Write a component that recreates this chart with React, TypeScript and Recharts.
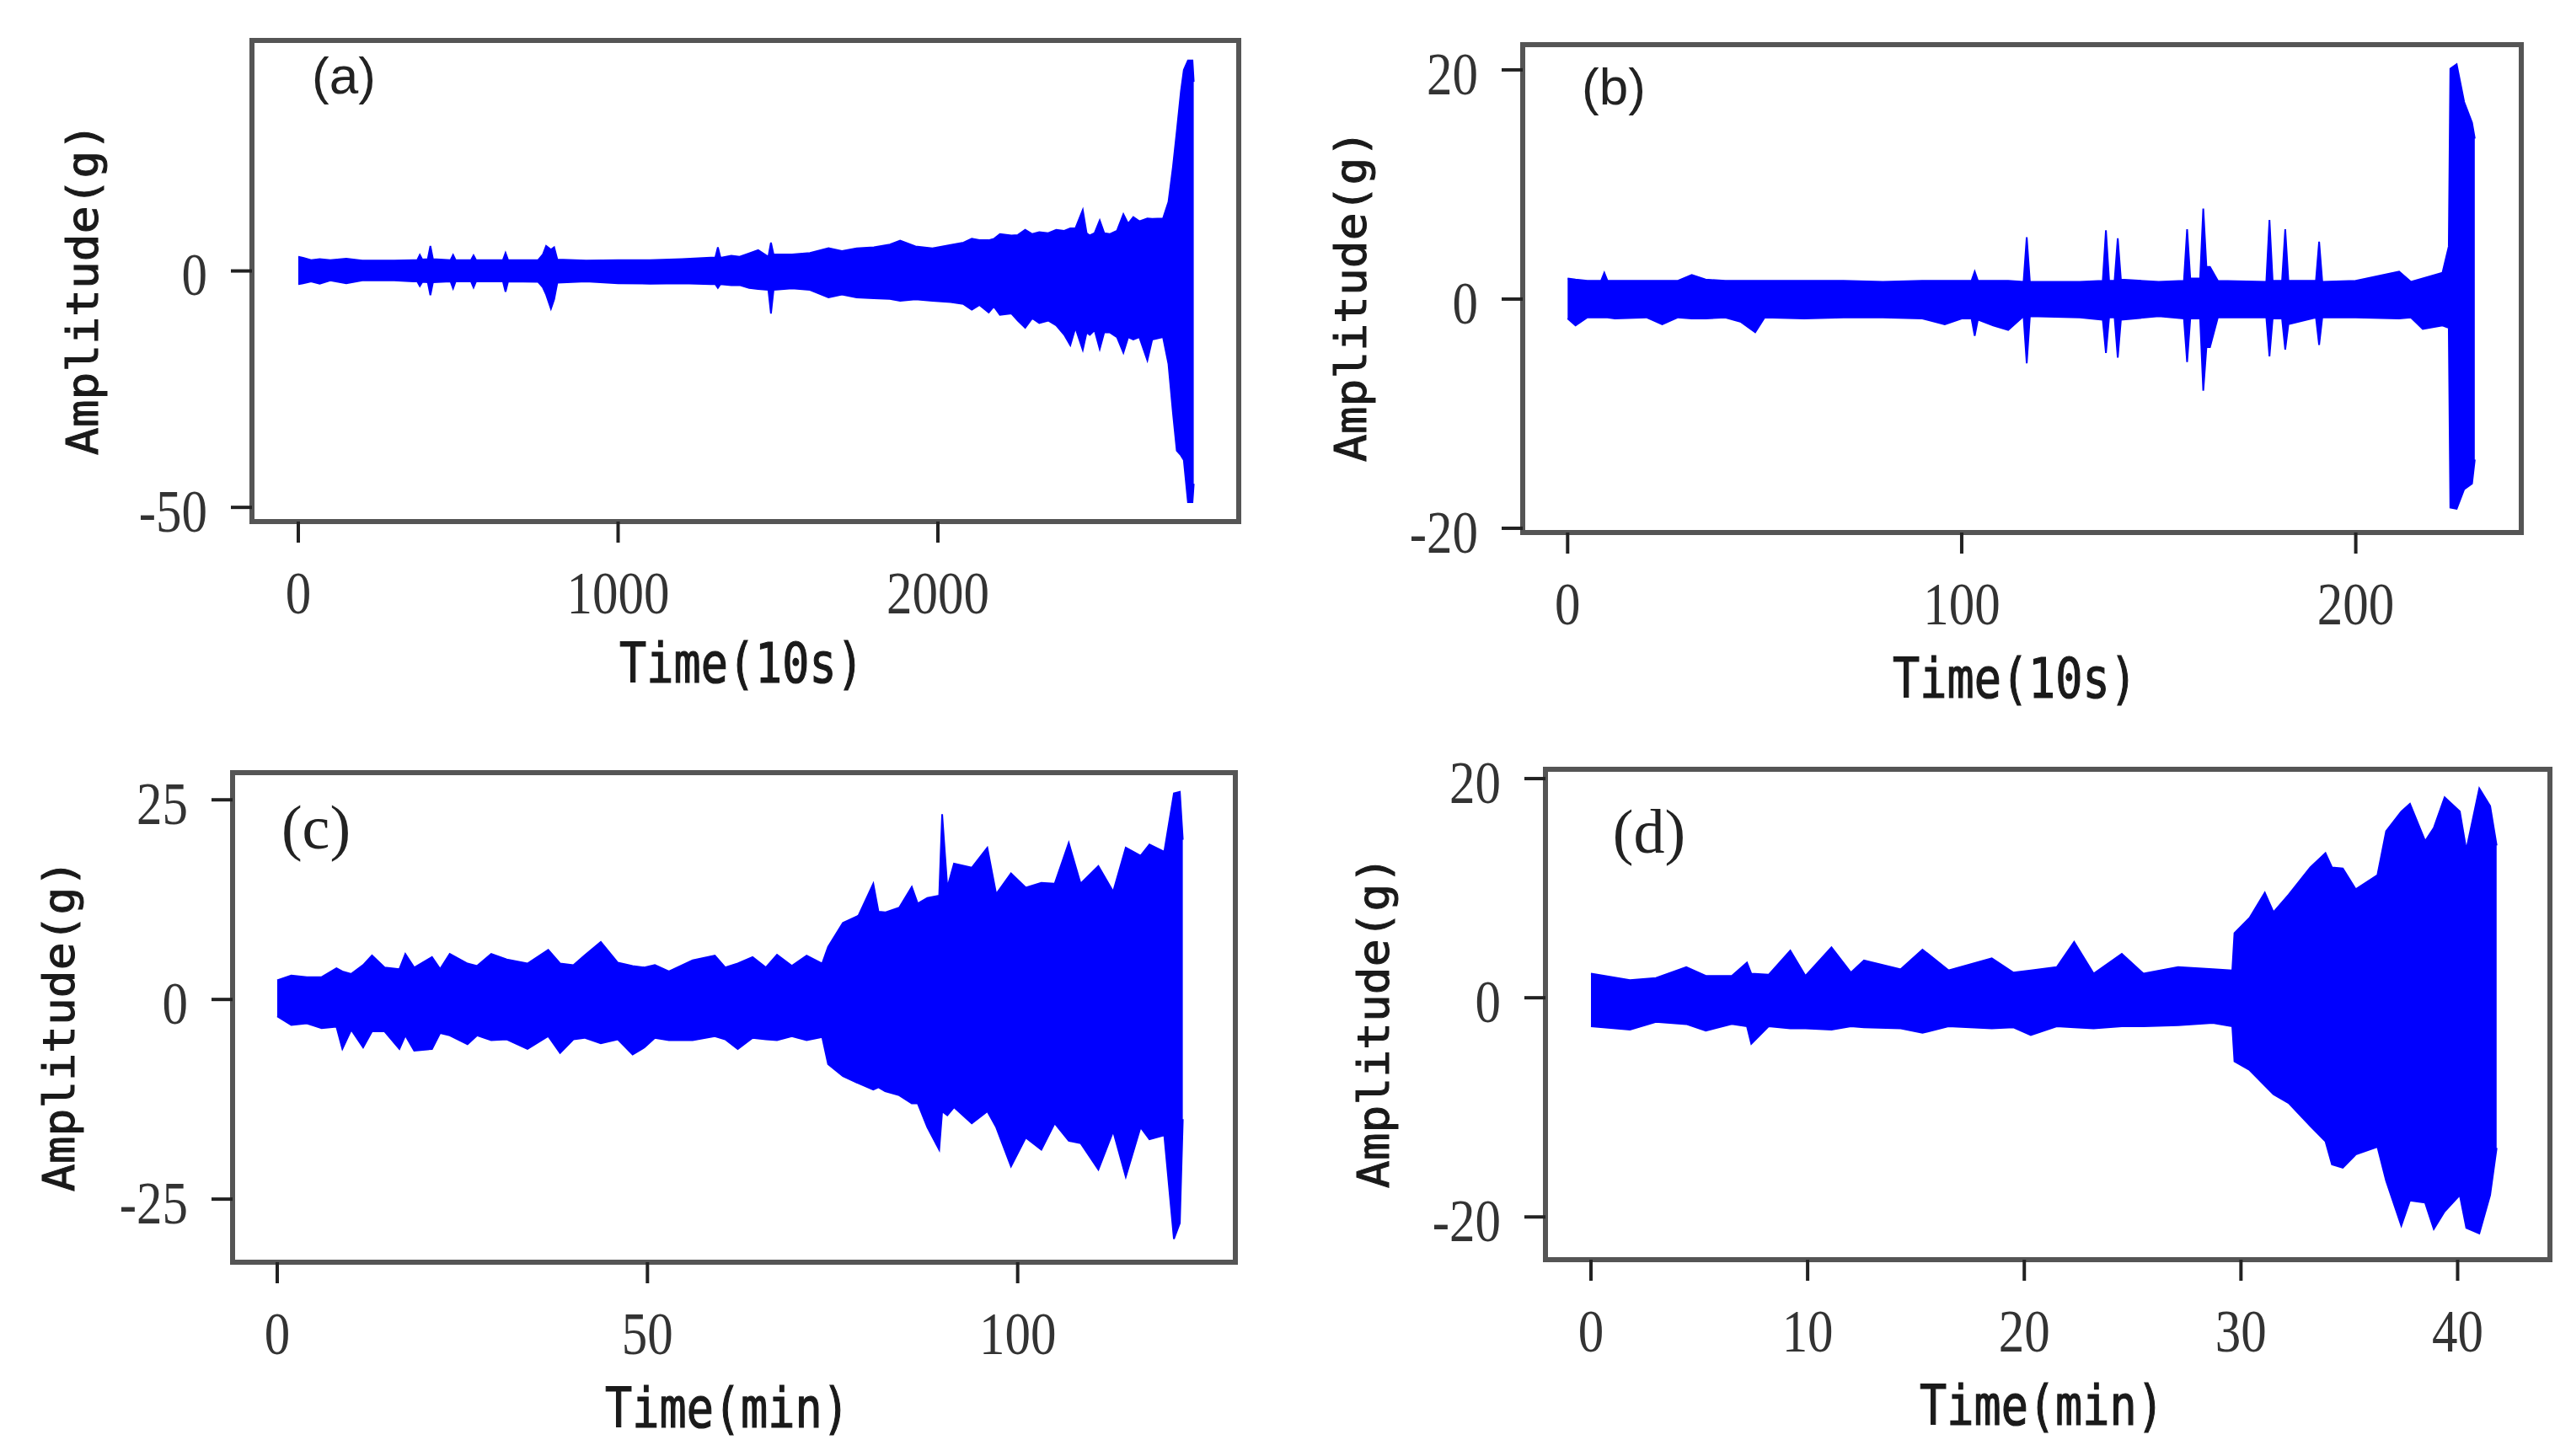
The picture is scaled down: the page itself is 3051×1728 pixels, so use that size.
import { AreaChart, Area, XAxis, YAxis, ReferenceArea } from "recharts";

// (a) Time (10s) vs amplitude, envelope of the vibration trace
const A_T = [0, 15, 40, 67, 100, 150, 200, 300, 360, 372, 380, 388, 405, 413, 421, 476, 484, 492, 540, 548, 556, 640, 648, 656, 750, 765, 775, 790, 800, 810, 900, 1000, 1100, 1200, 1290, 1304, 1312, 1320, 1354, 1380, 1410, 1438, 1470, 1478, 1486, 1544, 1600, 1658, 1700, 1746, 1800, 1850, 1882, 1930, 1983, 2040, 2080, 2106, 2130, 2159, 2175, 2194, 2230, 2250, 2273, 2295, 2317, 2345, 2370, 2395, 2414, 2430, 2453, 2465, 2475, 2490, 2506, 2520, 2537, 2560, 2580, 2595, 2611, 2630, 2655, 2670, 2704, 2721, 2735, 2747, 2760, 2769, 2782, 2796, 2800];
const A_HI = [3.0, 2.8, 2.3, 2.5, 2.3, 2.6, 2.2, 2.2, 2.3, 2.3, 3.4, 2.4, 2.5, 5.3, 2.5, 2.3, 3.4, 2.3, 2.3, 3.3, 2.3, 2.3, 3.8, 2.3, 2.3, 3.5, 5.3, 4.5, 5.0, 2.4, 2.2, 2.3, 2.3, 2.5, 2.8, 2.8, 5.0, 2.8, 3.2, 3.0, 3.7, 4.4, 3.0, 6.0, 3.5, 3.5, 3.8, 4.8, 4.2, 4.8, 5.0, 5.6, 6.4, 5.2, 4.8, 5.5, 6.0, 6.8, 6.5, 6.5, 6.8, 7.8, 7.5, 7.6, 8.7, 7.8, 8.2, 8.0, 8.7, 8.5, 9.0, 9.0, 12.9, 8.0, 7.5, 8.0, 10.7, 8.0, 7.8, 8.5, 12.0, 10.0, 11.4, 10.5, 11.1, 11.0, 11.1, 14.6, 22.0, 29.5, 38.0, 42.5, 44.5, 44.5, 40.0];
const A_LO = [-2.8, -2.6, -2.2, -2.7, -2.0, -2.6, -2.0, -2.0, -2.2, -2.2, -3.2, -2.3, -2.4, -5.1, -2.4, -2.2, -3.7, -2.2, -2.2, -3.5, -2.2, -2.2, -4.4, -2.2, -2.3, -3.5, -5.0, -8.0, -6.0, -2.5, -2.2, -2.6, -2.7, -2.6, -2.8, -2.8, -3.6, -2.8, -3.0, -3.0, -3.6, -3.8, -4.0, -9.0, -4.0, -3.7, -4.0, -5.6, -5.0, -5.6, -5.8, -5.9, -6.3, -6.0, -6.3, -6.6, -7.0, -8.2, -7.2, -8.8, -7.5, -9.3, -9.0, -10.5, -12.0, -10.0, -11.0, -10.5, -11.5, -13.5, -15.7, -12.0, -16.7, -13.0, -13.5, -12.5, -16.5, -13.0, -13.0, -14.0, -17.3, -14.0, -14.5, -14.0, -18.9, -14.5, -14.0, -19.7, -30.0, -38.0, -39.0, -40.0, -48.9, -48.9, -45.0];

// (b) Time (10s)
const B_T = [0, 2, 5, 8.5, 9.3, 10.1, 12, 20, 24, 28, 31.5, 35, 40, 44, 47.6, 50, 60, 70, 80, 90, 95.7, 100, 102.5, 103.3, 104.1, 108, 111.8, 115.7, 116.5, 117.3, 130, 135.8, 136.6, 137.4, 138.8, 139.6, 140.4, 150, 156.4, 157.2, 158, 160.5, 161.3, 162.1, 163, 165, 177.3, 178.1, 178.9, 181.3, 182.1, 182.9, 189.9, 190.7, 191.5, 200, 211, 214, 217, 222, 223.6, 224, 225.6, 227.5, 229.5, 230.2];
const B_HI = [1.8, 1.7, 1.6, 1.6, 2.3, 1.6, 1.6, 1.6, 1.6, 1.6, 2.1, 1.7, 1.6, 1.6, 1.6, 1.6, 1.6, 1.6, 1.5, 1.6, 1.6, 1.6, 1.6, 2.4, 1.6, 1.6, 1.6, 1.5, 5.4, 1.5, 1.5, 1.6, 6.0, 1.6, 1.6, 5.3, 1.7, 1.5, 1.6, 6.1, 1.8, 1.8, 7.9, 2.8, 2.8, 1.6, 1.5, 6.9, 1.6, 1.6, 6.1, 1.6, 1.6, 5.0, 1.5, 1.6, 2.4, 1.5, 1.8, 2.3, 4.6, 20.1, 20.5, 17.2, 15.4, 14.0];
const B_LO = [-1.7, -2.3, -1.6, -1.6, -1.6, -1.6, -1.7, -1.6, -2.2, -1.6, -1.7, -1.7, -1.6, -2.0, -2.9, -1.6, -1.7, -1.6, -1.6, -1.7, -2.2, -1.7, -1.7, -3.2, -1.8, -2.3, -2.7, -1.5, -5.6, -1.5, -1.6, -1.8, -4.7, -1.6, -1.6, -5.1, -1.8, -1.5, -1.7, -5.5, -1.7, -1.7, -8.0, -4.2, -4.2, -1.6, -1.6, -5.0, -1.7, -1.7, -4.4, -2.2, -1.6, -4.0, -1.6, -1.6, -1.7, -1.6, -2.6, -2.3, -2.5, -18.2, -18.3, -16.6, -16.1, -14.0];

// (c) Time (min)
const C_T = [0, 1.9, 4, 6, 8, 8.8, 10, 11.6, 12.8, 14.5, 16.5, 17.3, 18.5, 20.9, 22, 23.3, 25.7, 27, 28.9, 31, 33.8, 36.6, 38.2, 40, 41.5, 43.7, 46, 48, 49.6, 51, 52.9, 56.1, 59.1, 60.5, 62.2, 64.2, 66, 67.5, 69.5, 71.5, 73.6, 74.4, 76.4, 78.5, 80.5, 81.2, 82.1, 84, 85.7, 86.5, 87.8, 89.4, 89.8, 90.5, 91.4, 93.8, 95.9, 97.1, 99.1, 101.1, 103.2, 105, 106.9, 108.5, 110.9, 112.9, 114.6, 116.6, 117.8, 119.8, 121.1, 121.9, 122.3];
const C_HI = [2.4, 3.0, 2.8, 2.8, 3.9, 3.5, 3.2, 4.3, 5.5, 4.0, 3.8, 5.7, 4.0, 5.3, 3.8, 5.7, 4.5, 4.2, 5.7, 5.0, 4.5, 6.2, 4.5, 4.3, 5.5, 7.2, 4.6, 4.2, 4.0, 4.3, 3.5, 4.9, 5.5, 4.0, 4.5, 5.3, 4.0, 5.6, 4.2, 5.5, 4.5, 6.6, 9.6, 10.5, 14.5, 11.0, 10.9, 11.5, 14.1, 12.0, 12.7, 13.0, 23.2, 14.0, 17.0, 16.5, 19.0, 13.2, 15.8, 14.0, 14.6, 14.5, 19.6, 14.5, 16.7, 13.5, 19.0, 18.0, 19.4, 18.5, 25.8, 26.0, 20.0];
const C_LO = [-2.1, -3.2, -3.0, -3.6, -3.4, -6.2, -3.8, -6.0, -4.0, -4.0, -6.2, -4.5, -6.4, -6.2, -4.2, -4.5, -5.6, -4.5, -5.1, -5.0, -6.2, -4.6, -6.7, -5.0, -4.8, -5.5, -5.0, -6.9, -6.0, -4.8, -5.1, -5.1, -4.6, -5.0, -6.2, -4.8, -5.0, -5.1, -4.6, -5.1, -4.7, -8.1, -9.6, -10.5, -11.3, -11.0, -11.5, -12.0, -13.0, -13.0, -16.0, -18.8, -14.0, -14.5, -13.5, -15.5, -14.0, -16.0, -20.9, -17.3, -18.8, -15.5, -17.7, -18.0, -21.3, -16.5, -22.2, -16.0, -17.5, -17.0, -30.0, -28.0, -15.0];

// (d) Time (min)
const D_T = [0, 1.8, 3, 4.4, 5.3, 6.5, 7.2, 7.4, 8.2, 9.2, 9.9, 11.1, 12, 12.6, 14.3, 15.3, 16.5, 18.5, 19.5, 20.3, 21.5, 22.3, 23.2, 24.5, 25.5, 27.1, 28.7, 29.6, 29.7, 30.4, 31.1, 31.5, 32.2, 33.2, 33.9, 34.2, 34.7, 35.3, 36.3, 36.7, 37.4, 37.8, 38.5, 38.9, 39.4, 40.1, 40.4, 41.0, 41.5, 41.8];
const D_HI = [2.2, 1.6, 1.8, 2.8, 2.0, 2.0, 3.2, 2.2, 2.1, 4.3, 2.0, 4.6, 2.3, 3.4, 2.6, 4.4, 2.5, 3.6, 2.3, 2.5, 2.8, 5.1, 2.2, 4.0, 2.2, 2.8, 2.6, 2.5, 5.9, 7.3, 9.6, 7.8, 9.4, 11.9, 13.2, 11.9, 11.8, 9.9, 11.2, 15.2, 17.0, 17.7, 14.3, 15.5, 18.3, 17.0, 13.5, 19.1, 17.5, 13.9];
const D_LO = [-2.6, -2.9, -2.2, -2.4, -3.0, -2.4, -2.6, -4.2, -2.6, -2.8, -2.8, -2.9, -2.6, -2.7, -2.8, -3.2, -2.6, -2.8, -2.7, -3.4, -2.6, -2.7, -2.8, -2.6, -2.6, -2.5, -2.3, -2.6, -5.8, -6.6, -8.0, -8.8, -9.6, -11.7, -13.1, -15.2, -15.5, -14.3, -13.6, -16.7, -20.8, -18.5, -18.7, -21.1, -19.5, -18.0, -21.0, -21.5, -18.0, -13.7];

const toRows = (t: number[], hi: number[], lo: number[]) =>
  t.map((v, i) => ({ t: v, band: [lo[i], hi[i]] }));

const BLUE = "#0000ff";
const FRAME = "#555555";
const SERIF = "'Liberation Serif', serif";
const MONO = "'DejaVu Sans Mono', monospace";
const PAD_L = 280;
const PAD_B = 240;
const PAD_T = 60;
const PAD_R = 12;

// tick labels are a bit taller than wide in the figure, so stretch them
const XTick = (props: any) => {
  const { x, y, payload } = props;
  return (
    <g transform={`translate(${x},${y})`}>
      <text textAnchor="middle" dy="0.71em" transform="scale(1,1.18)" fontFamily={SERIF} fontSize={61} fill="#333">
        {payload.value}
      </text>
    </g>
  );
};

const YTick = (props: any) => {
  const { x, y, payload } = props;
  return (
    <g transform={`translate(${x},${y})`}>
      <text textAnchor="end" dy="0.4em" transform="scale(1,1.18)" fontFamily={SERIF} fontSize={61} fill="#333">
        {payload.value}
      </text>
    </g>
  );
};

type Box = { left: number; top: number; right: number; bottom: number };

function Panel({ rows, box, xDomain, yDomain, xTicks, yTicks }: {
  rows: { t: number; band: number[] }[];
  box: Box;
  xDomain: [number, number];
  yDomain: [number, number];
  xTicks: number[];
  yTicks: number[];
}) {
  const w = box.right - box.left;
  const h = box.bottom - box.top;
  return (
    <div style={{ position: "absolute", left: box.left - PAD_L, top: box.top - PAD_T }}>
      <AreaChart
        width={w + PAD_L + PAD_R}
        height={h + PAD_T + PAD_B}
        data={rows}
        margin={{ top: PAD_T, right: PAD_R, left: 0, bottom: 0 }}
      >
        <XAxis
          dataKey="t"
          type="number"
          domain={xDomain}
          ticks={xTicks}
          interval={0}
          allowDataOverflow
          height={PAD_B}
          axisLine={false}
          tickLine={{ stroke: "#222", strokeWidth: 4 }}
          tickSize={25}
          tickMargin={33}
          tick={<XTick />}
        />
        <YAxis
          type="number"
          domain={yDomain}
          ticks={yTicks}
          interval={0}
          allowDataOverflow
          width={PAD_L}
          axisLine={false}
          tickLine={{ stroke: "#222", strokeWidth: 4 }}
          tickSize={25}
          tickMargin={28}
          tick={<YTick />}
        />
        <Area
          dataKey="band"
          type="linear"
          stroke={BLUE}
          strokeWidth={2}
          fill={BLUE}
          fillOpacity={1}
          dot={false}
          activeDot={false}
          isAnimationActive={false}
        />
        <ReferenceArea
          x1={xDomain[0]}
          x2={xDomain[1]}
          y1={yDomain[0]}
          y2={yDomain[1]}
          fill="none"
          fillOpacity={0}
          stroke={FRAME}
          strokeWidth={6}
          ifOverflow="visible"
        />
      </AreaChart>
    </div>
  );
}

const titleStyle = {
  position: "absolute" as const,
  fontFamily: MONO,
  color: "#1a1a1a",
  WebkitTextStroke: "1px #1a1a1a",
  whiteSpace: "nowrap" as const,
  lineHeight: 1,
};

function XTitle({ x, y, text }: { x: number; y: number; text: string }) {
  return (
    <div style={{ ...titleStyle, fontSize: 53.5, left: x, top: y, transform: "translate(-50%, -50%) scale(1, 1.24)" }}>
      {text}
    </div>
  );
}

function YTitle({ x, y, text }: { x: number; y: number; text: string }) {
  return (
    <div style={{ ...titleStyle, fontSize: 52, left: x, top: y, transform: "translate(-50%, -50%) rotate(-90deg) scale(1.05, 1)" }}>
      {text}
    </div>
  );
}

function Tag({ x, y, text, serif }: { x: number; y: number; text: string; serif?: boolean }) {
  return (
    <div
      style={{
        position: "absolute",
        left: x,
        top: y,
        transform: "translate(-50%, -50%)",
        fontFamily: serif ? SERIF : "'Liberation Sans', sans-serif",
        fontSize: serif ? 74 : 62,
        color: "#222",
        lineHeight: 1,
        whiteSpace: "nowrap",
      }}
    >
      {text}
    </div>
  );
}

export default function App() {
  return (
    <div style={{ position: "absolute", left: 0, top: 0, width: 3051, height: 1728, background: "#fff", overflow: "hidden" }}>
      <Panel
        rows={toRows(A_T, A_HI, A_LO)}
        box={{ left: 299, top: 48, right: 1470, bottom: 619 }}
        xDomain={[-144.9, 2940.7]}
        yDomain={[-53.0, 48.75]}
        xTicks={[0, 1000, 2000]}
        yTicks={[-50, 0]}
      />
      <Panel
        rows={toRows(B_T, B_HI, B_LO)}
        box={{ left: 1807, top: 53, right: 2992, bottom: 632 }}
        xDomain={[-11.4, 242.0]}
        yDomain={[-20.37, 22.2]}
        xTicks={[0, 100, 200]}
        yTicks={[-20, 0, 20]}
      />
      <Panel
        rows={toRows(C_T, C_HI, C_LO)}
        box={{ left: 276, top: 917, right: 1466, bottom: 1498 }}
        xDomain={[-6.03, 129.4]}
        yDomain={[-32.9, 28.4]}
        xTicks={[0, 50, 100]}
        yTicks={[-25, 0, 25]}
      />
      <Panel
        rows={toRows(D_T, D_HI, D_LO)}
        box={{ left: 1834, top: 913, right: 3026, bottom: 1495 }}
        xDomain={[-2.1, 44.26]}
        yDomain={[-23.9, 20.85]}
        xTicks={[0, 10, 20, 30, 40]}
        yTicks={[-20, 0, 20]}
      />

      <Tag x={408} y={90} text="(a)" />
      <Tag x={1915} y={103} text="(b)" />
      <Tag x={375} y={982} text="(c)" serif />
      <Tag x={1957} y={987} text="(d)" serif />

      <XTitle x={880} y={787} text="Time(10s)" />
      <XTitle x={2391} y={805} text="Time(10s)" />
      <XTitle x={863} y={1671} text="Time(min)" />
      <XTitle x={2423} y={1668} text="Time(min)" />

      <YTitle x={98} y={343} text="Amplitude(g)" />
      <YTitle x={1603} y={351} text="Amplitude(g)" />
      <YTitle x={70} y={1217} text="Amplitude(g)" />
      <YTitle x={1630} y={1213} text="Amplitude(g)" />
    </div>
  );
}
